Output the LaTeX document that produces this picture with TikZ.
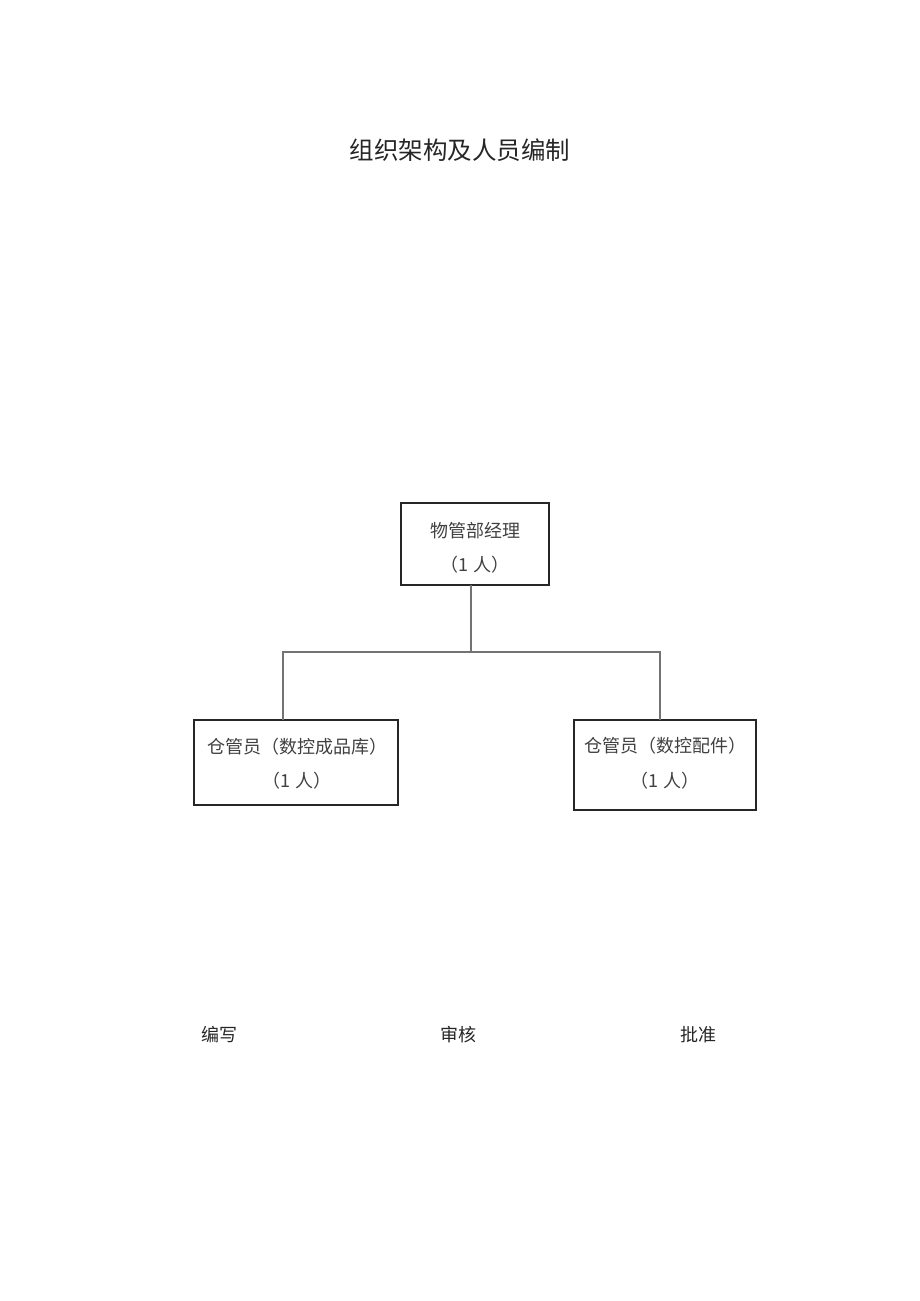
\documentclass[tikz,border=0pt]{standalone}
\usepackage{fontspec}
\newfontfamily\cjk{Noto Sans CJK SC}
\begin{document}
\begin{tikzpicture}[x=1pt,y=-1pt,
  box/.style={draw=black!85,line width=1.6pt,inner sep=0pt},
  conn/.style={draw=black!55,line width=1.1pt},
  txt/.style={font=\cjk\fontsize{18}{21}\selectfont,text=black!75,inner sep=0pt}]
\useasboundingbox (0,0) rectangle (920,1301);
\node[font=\cjk\fontsize{24.5}{28}\selectfont,text=black!85,inner sep=0pt] (title) at (460,150) {组织架构及人员编制};
% boxes
\node[box,minimum width=148pt,minimum height=82pt] (mgr) at (475,544) {};
\node[box,minimum width=204pt,minimum height=85pt] (left) at (296,762.5) {};
\node[box,minimum width=182pt,minimum height=90pt] (right) at (665,765) {};
\node[txt] (mgr1) at (475,531) {物管部经理};
\node[txt] (mgr2) at (475,565) {（1 人）};
\node[txt] (left1) at (297,747) {仓管员（数控成品库）};
\node[txt] (left2) at (297,781) {（1 人）};
\node[txt] (right1) at (665,746) {仓管员（数控配件）};
\node[txt] (right2) at (665,781) {（1 人）};
% connectors
\coordinate (j) at (471,652);
\draw[conn] (471,585) -- (j);
\draw[conn] (j) -- (283,652) -- (283,720);
\draw[conn] (j) -- (660,652) -- (660,720);
% bottom labels
\node[txt,text=black!85] (w) at (219,1035) {编写};
\node[txt,text=black!85] (s) at (458,1035) {审核};
\node[txt,text=black!85] (p) at (698,1035) {批准};
\end{tikzpicture}
\end{document}
